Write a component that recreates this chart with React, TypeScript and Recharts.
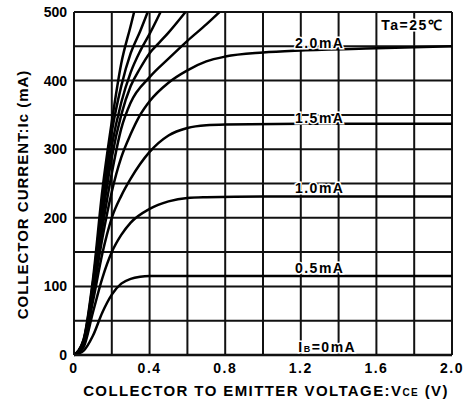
import { LineChart, Line, XAxis, YAxis, CartesianGrid, ReferenceDot } from 'recharts';

// collector current curves, Ic (mA) vs Vce (V), one pair per base current
const vIb05 = [0, 0.05, 0.1, 0.15, 0.2, 0.25, 0.3, 0.35, 0.4, 0.6, 1.0, 2.0];
const iIb05 = [0, 6, 28, 62, 88, 104, 111, 114, 115, 115, 115, 115];

const vIb10 = [0, 0.05, 0.1, 0.15, 0.2, 0.25, 0.3, 0.4, 0.5, 0.6, 0.7, 1.0, 2.0];
const iIb10 = [0, 11, 62, 112, 150, 175, 193, 213, 224, 229, 230, 231, 231];

const vIb15 = [0, 0.05, 0.1, 0.15, 0.2, 0.25, 0.3, 0.4, 0.5, 0.6, 0.7, 0.8, 1.2, 2.0];
const iIb15 = [0, 14, 78, 148, 200, 232, 257, 296, 320, 331, 335, 336, 337, 337];

const vIb20 = [0, 0.05, 0.1, 0.15, 0.2, 0.25, 0.3, 0.35, 0.4, 0.5, 0.6, 0.7, 0.8, 1.0, 1.2, 1.6, 2.0];
const iIb20 = [0, 16, 88, 170, 238, 288, 322, 350, 370, 397, 415, 428, 435, 441, 444, 447, 450];

const vIb25 = [0, 0.05, 0.1, 0.15, 0.2, 0.25, 0.3, 0.4, 0.5, 0.6, 0.7, 0.77];
const iIb25 = [0, 18, 92, 185, 265, 330, 368, 405, 432, 458, 482, 500];

const vIb30 = [0, 0.05, 0.1, 0.15, 0.2, 0.25, 0.3, 0.35, 0.4, 0.45, 0.5, 0.59];
const iIb30 = [0, 19, 95, 200, 288, 350, 392, 418, 440, 455, 470, 500];

const vIb35 = [0, 0.05, 0.1, 0.15, 0.2, 0.25, 0.3, 0.35, 0.4, 0.458];
const iIb35 = [0, 20, 100, 212, 305, 368, 412, 443, 468, 500];

const vIb40 = [0, 0.05, 0.1, 0.15, 0.2, 0.25, 0.3, 0.35, 0.39];
const iIb40 = [0, 21, 105, 225, 325, 392, 440, 472, 500];

const vIb45 = [0, 0.05, 0.1, 0.15, 0.2, 0.25, 0.3, 0.318];
const iIb45 = [0, 22, 110, 240, 340, 425, 480, 500];

const vIb0 = [0, 2.0];
const iIb0 = [0, 0];

const xTicks = [0, 0.2, 0.4, 0.6, 0.8, 1.0, 1.2, 1.4, 1.6, 1.8, 2.0];
const yTicks = [0, 50, 100, 150, 200, 250, 300, 350, 400, 450, 500];

// curve labels: text, Vce, Ic at label centre
const labelText = ['2.0mA', '1.5mA', '1.0mA', '0.5mA'];
const labelV = [1.3, 1.3, 1.3, 1.3];
const labelI = [455, 345, 243, 127];

const toPoints = (v: number[], i: number[]) => v.map((x, k) => ({ v: x, i: i[k] }));

const series = [
  toPoints(vIb0, iIb0),
  toPoints(vIb05, iIb05),
  toPoints(vIb10, iIb10),
  toPoints(vIb15, iIb15),
  toPoints(vIb20, iIb20),
  toPoints(vIb25, iIb25),
  toPoints(vIb30, iIb30),
  toPoints(vIb35, iIb35),
  toPoints(vIb40, iIb40),
  toPoints(vIb45, iIb45),
];

const FONT = '"Liberation Sans", Arial, sans-serif';

const textLabel = (content: React.ReactNode, size = 14) => (props: any) => {
  const { viewBox } = props;
  const cx = viewBox.x + viewBox.width / 2;
  const cy = viewBox.y + viewBox.height / 2;
  return (
    <text
      x={cx}
      y={cy}
      textAnchor="middle"
      dominantBaseline="central"
      fontFamily={FONT}
      fontWeight="bold"
      fontSize={size}
      letterSpacing={1.5}
      fill="#000"
      stroke="#fff"
      strokeWidth={3}
      paintOrder="stroke"
    >
      {content}
    </text>
  );
};

const yTitle = (props: any) => {
  const { viewBox } = props;
  const x = viewBox.x + 22;
  const y = viewBox.y + viewBox.height / 2 + 11;
  return (
    <text
      x={x}
      y={y}
      transform={`rotate(-90, ${x}, ${y})`}
      textAnchor="middle"
      dominantBaseline="central"
      fontFamily={FONT}
      fontWeight="bold"
      fontSize={15}
      letterSpacing={1}
      fill="#000"
    >
      COLLECTOR CURRENT:Ic (mA)
    </text>
  );
};

const xTitle = (props: any) => {
  const { viewBox } = props;
  const x = viewBox.x + viewBox.width / 2 + 3;
  const y = viewBox.y + 35;
  return (
    <text
      x={x}
      y={y}
      textAnchor="middle"
      dominantBaseline="central"
      fontFamily={FONT}
      fontWeight="bold"
      fontSize={15}
      letterSpacing={1.4}
      fill="#000"
    >
      COLLECTOR TO EMITTER VOLTAGE:V
      <tspan fontSize={10} dy={2}>CE</tspan>
      <tspan dy={-2}> (V)</tspan>
    </text>
  );
};

export default function App() {
  return (
    <div style={{ position: 'absolute', left: 0, top: 0, background: '#fff' }}>
      <LineChart width={466} height={401} margin={{ top: 12, right: 14, bottom: 0, left: 0 }}>
        <CartesianGrid stroke="#111" strokeWidth={2} />
        <XAxis
          type="number"
          dataKey="v"
          domain={[0, 2]}
          ticks={xTicks}
          interval={0}
          height={46}
          tickLine={false}
          tickSize={6}
          tickMargin={2}
          axisLine={{ stroke: '#111', strokeWidth: 2 }}
          tickFormatter={(v: number) => (Math.round(v * 10) % 4 === 0 ? (v === 0 ? '0' : v.toFixed(1)) : '')}
          tick={{ fill: '#000', fontSize: 14, fontWeight: 'bold', fontFamily: FONT, letterSpacing: 1.5 }}
          label={{ content: xTitle }}
        />
        <YAxis
          type="number"
          dataKey="i"
          domain={[0, 500]}
          ticks={yTicks}
          interval={0}
          width={74}
          tickLine={false}
          tickSize={5}
          tickMargin={2}
          axisLine={{ stroke: '#111', strokeWidth: 2 }}
          tickFormatter={(v: number) => (v % 100 === 0 ? String(v) : '')}
          tick={{ fill: '#000', fontSize: 14, fontWeight: 'bold', fontFamily: FONT }}
          label={{ content: yTitle }}
        />
        {series.map((d, k) => (
          <Line
            key={k}
            data={d}
            dataKey="i"
            type="monotone"
            stroke="#000"
            strokeWidth={2.5}
            dot={false}
            activeDot={false}
            isAnimationActive={false}
          />
        ))}
        {labelText.map((t, k) => (
          <ReferenceDot
            key={t}
            x={labelV[k]}
            y={labelI[k]}
            r={1}
            fill="none"
            stroke="none"
            label={{ content: textLabel(t) }}
          />
        ))}
        <ReferenceDot
          x={1.34}
          y={12}
          r={1}
          fill="none"
          stroke="none"
          label={{
            content: textLabel(
              <>
                I<tspan fontSize={9} dy={2}>B</tspan>
                <tspan dy={-2}>=0mA</tspan>
              </>
            ),
          }}
        />
        <ReferenceDot
          x={1.79}
          y={481}
          r={1}
          fill="none"
          stroke="none"
          label={{ content: textLabel('Ta=25℃') }}
        />
      </LineChart>
    </div>
  );
}
